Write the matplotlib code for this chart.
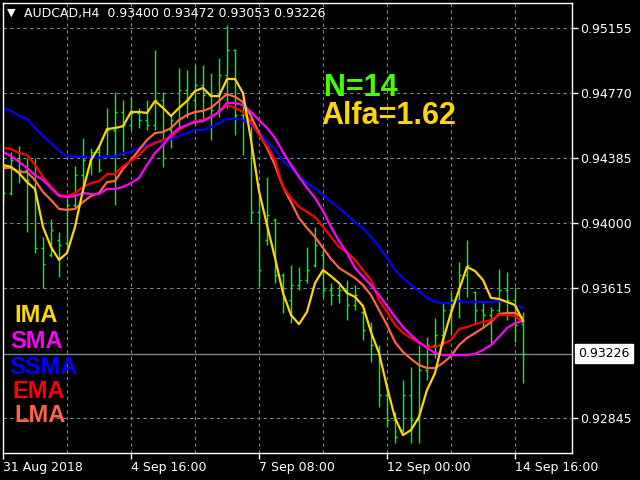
import numpy as np
import matplotlib.pyplot as plt
from matplotlib.transforms import blended_transform_factory

# H4 bars AUDCAD, 31 Aug 2018 .. 14 Sep 2018 20:00
opens = [0.94284, 0.94178, 0.94374, 0.94314, 0.94255, 0.93853, 0.93811, 0.93900, 0.93882, 0.94107,
         0.94284, 0.94374, 0.94421, 0.94403, 0.94551, 0.94658, 0.94580, 0.94652, 0.94610, 0.94580,
         0.94729, 0.94551, 0.94610, 0.94788, 0.94729, 0.94817, 0.94758, 0.94670, 0.94876, 0.95025,
         0.94640, 0.94610, 0.94066, 0.93900, 0.94018, 0.93692, 0.93545, 0.93633, 0.93663, 0.93752,
         0.93811, 0.93604, 0.93574, 0.93604, 0.93515, 0.93474, 0.93367, 0.93249, 0.92982, 0.92834,
         0.92775, 0.92982, 0.92834, 0.93130, 0.93278, 0.93337, 0.93486, 0.93545, 0.93692, 0.93592,
         0.93486, 0.93456, 0.93486, 0.93604, 0.93545, 0.93400]
highs = [0.94356, 0.94421, 0.94457, 0.94386, 0.94386, 0.93918, 0.94025, 0.93947, 0.94149, 0.94338,
         0.94504, 0.94445, 0.94462, 0.94682, 0.94776, 0.94729, 0.94747, 0.94682, 0.94729, 0.95025,
         0.94776, 0.94640, 0.94919, 0.94906, 0.94936, 0.94936, 0.94888, 0.94978, 0.95172, 0.95031,
         0.94729, 0.94640, 0.94166, 0.94273, 0.94030, 0.93704, 0.93752, 0.93740, 0.93859, 0.93977,
         0.93841, 0.93645, 0.93633, 0.93663, 0.93633, 0.93480, 0.93414, 0.93278, 0.93041, 0.92882,
         0.93071, 0.93148, 0.93278, 0.93326, 0.93438, 0.93533, 0.93592, 0.93770, 0.93900, 0.93598,
         0.93527, 0.93503, 0.93729, 0.93712, 0.93622, 0.93472]
lows = [0.94107, 0.94166, 0.94237, 0.93947, 0.93823, 0.93616, 0.93800, 0.93681, 0.93859, 0.94096,
        0.94225, 0.94284, 0.94302, 0.94392, 0.94107, 0.94403, 0.94551, 0.94563, 0.94551, 0.94551,
        0.94332, 0.94445, 0.94563, 0.94623, 0.94580, 0.94598, 0.94492, 0.94629, 0.94682, 0.94521,
        0.94403, 0.94000, 0.93622, 0.93870, 0.93645, 0.93468, 0.93408, 0.93604, 0.93645, 0.93740,
        0.93563, 0.93515, 0.93527, 0.93426, 0.93486, 0.93308, 0.93178, 0.92912, 0.92793, 0.92698,
        0.92765, 0.92698, 0.92698, 0.93071, 0.93201, 0.93278, 0.93337, 0.93438, 0.93563, 0.93408,
        0.93379, 0.93290, 0.93474, 0.93426, 0.93296, 0.93053]
closes = [0.94178, 0.94374, 0.94314, 0.94255, 0.93853, 0.93758, 0.93959, 0.93870, 0.94107, 0.94284,
          0.94374, 0.94421, 0.94314, 0.94551, 0.94658, 0.94580, 0.94652, 0.94610, 0.94580, 0.94729,
          0.94551, 0.94610, 0.94788, 0.94729, 0.94817, 0.94758, 0.94670, 0.94876, 0.95025, 0.94640,
          0.94610, 0.94066, 0.93722, 0.94048, 0.93692, 0.93545, 0.93633, 0.93663, 0.93722, 0.93870,
          0.93604, 0.93574, 0.93604, 0.93515, 0.93574, 0.93367, 0.93278, 0.92982, 0.92834, 0.92733,
          0.92982, 0.92834, 0.93130, 0.93278, 0.93337, 0.93486, 0.93545, 0.93692, 0.93752, 0.93486,
          0.93456, 0.93486, 0.93604, 0.93545, 0.93397, 0.93226]

# moving averages
ima = [0.94344, 0.94333, 0.94296, 0.94243, 0.94202, 0.93977, 0.93859, 0.93782, 0.93823, 0.93977,
       0.94196, 0.94374, 0.94451, 0.94557, 0.94563, 0.94574, 0.94658, 0.94658, 0.94652, 0.94723,
       0.94682, 0.94634, 0.94682, 0.94723, 0.94782, 0.94800, 0.94752, 0.94752, 0.94853, 0.94853,
       0.94770, 0.94492, 0.94190, 0.93988, 0.93794, 0.93586, 0.93456, 0.93402, 0.93474, 0.93645,
       0.93722, 0.93686, 0.93645, 0.93586, 0.93563, 0.93509, 0.93355, 0.93231, 0.93030, 0.92847,
       0.92745, 0.92775, 0.92853, 0.93012, 0.93112, 0.93308, 0.93468, 0.93604, 0.93741, 0.93716,
       0.93663, 0.93557, 0.93551, 0.93533, 0.93515, 0.93420]
sma = [0.94421, 0.94397, 0.94362, 0.94327, 0.94284, 0.94255, 0.94208, 0.94160, 0.94154, 0.94160,
       0.94178, 0.94172, 0.94172, 0.94202, 0.94202, 0.94214, 0.94237, 0.94267, 0.94344, 0.94415,
       0.94462, 0.94521, 0.94563, 0.94580, 0.94598, 0.94604, 0.94629, 0.94658, 0.94711, 0.94711,
       0.94699, 0.94658, 0.94610, 0.94563, 0.94504, 0.94421, 0.94344, 0.94273, 0.94208, 0.94149,
       0.94072, 0.93977, 0.93894, 0.93823, 0.93735, 0.93681, 0.93633, 0.93574, 0.93509, 0.93445,
       0.93385, 0.93337, 0.93296, 0.93261, 0.93231, 0.93219, 0.93219, 0.93219, 0.93219, 0.93225,
       0.93249, 0.93278, 0.93326, 0.93379, 0.93408, 0.93420]
ssma = [0.94682, 0.94664, 0.94634, 0.94617, 0.94563, 0.94515, 0.94474, 0.94427, 0.94397, 0.94392,
        0.94392, 0.94386, 0.94386, 0.94397, 0.94392, 0.94415, 0.94421, 0.94445, 0.94462, 0.94480,
        0.94480, 0.94498, 0.94515, 0.94533, 0.94551, 0.94551, 0.94569, 0.94592, 0.94617, 0.94617,
        0.94610, 0.94580, 0.94533, 0.94486, 0.94433, 0.94368, 0.94327, 0.94273, 0.94237, 0.94208,
        0.94166, 0.94125, 0.94090, 0.94048, 0.94006, 0.93971, 0.93918, 0.93859, 0.93794, 0.93722,
        0.93675, 0.93633, 0.93598, 0.93557, 0.93533, 0.93527, 0.93527, 0.93539, 0.93533, 0.93533,
        0.93533, 0.93533, 0.93539, 0.93533, 0.93515, 0.93498]
ema = [0.94445, 0.94439, 0.94415, 0.94403, 0.94344, 0.94273, 0.94214, 0.94166, 0.94160, 0.94178,
       0.94214, 0.94237, 0.94249, 0.94290, 0.94290, 0.94338, 0.94368, 0.94403, 0.94451, 0.94474,
       0.94492, 0.94510, 0.94551, 0.94580, 0.94604, 0.94610, 0.94629, 0.94658, 0.94699, 0.94682,
       0.94658, 0.94598, 0.94521, 0.94457, 0.94374, 0.94214, 0.94149, 0.94096, 0.94066, 0.94036,
       0.93977, 0.93918, 0.93859, 0.93829, 0.93782, 0.93722, 0.93663, 0.93545, 0.93474, 0.93397,
       0.93349, 0.93320, 0.93290, 0.93267, 0.93267, 0.93284, 0.93308, 0.93373, 0.93385, 0.93402,
       0.93414, 0.93426, 0.93456, 0.93456, 0.93450, 0.93414]
lma = [0.94327, 0.94327, 0.94302, 0.94302, 0.94255, 0.94184, 0.94137, 0.94084, 0.94078, 0.94084,
       0.94125, 0.94160, 0.94178, 0.94243, 0.94249, 0.94320, 0.94374, 0.94433, 0.94492, 0.94533,
       0.94539, 0.94563, 0.94610, 0.94640, 0.94658, 0.94664, 0.94682, 0.94723, 0.94764, 0.94747,
       0.94717, 0.94634, 0.94533, 0.94445, 0.94344, 0.94214, 0.94125, 0.94030, 0.93971, 0.93918,
       0.93853, 0.93788, 0.93735, 0.93705, 0.93675, 0.93633, 0.93574, 0.93486, 0.93397, 0.93296,
       0.93237, 0.93196, 0.93160, 0.93142, 0.93142, 0.93172, 0.93213, 0.93278, 0.93320, 0.93349,
       0.93379, 0.93414, 0.93462, 0.93468, 0.93468, 0.93438]

price_levels = [0.95155, 0.94770, 0.94385, 0.94000, 0.93615, 0.92845]
bid = 0.93226
date_ticks = [0, 16, 32, 48, 64]
date_labels = ['31 Aug 2018', '4 Sep 16:00', '7 Sep 08:00', '12 Sep 00:00', '14 Sep 16:00']

grid_col = '#778899'
bar_col = '#00FF00'

fig = plt.figure(figsize=(6.4, 4.8), dpi=100, facecolor='black')
ax = fig.add_axes([3/640, 27/480, 569/640, 450/480])
ax.set_facecolor('black')

x = np.arange(len(closes))

# grid
for k in range(8, 72, 8):
    ax.axvline(k, color=grid_col, lw=0.8, ls=(0, (3, 3)), zorder=0)
for lv in price_levels:
    ax.axhline(lv, color=grid_col, lw=0.8, ls=(0, (3, 3)), zorder=0)
ax.axhline(bid, color=grid_col, lw=1, zorder=0)

# OHLC bars
ax.vlines(x, lows, highs, color=bar_col, lw=1.0, zorder=1)
ax.hlines(opens, x - 0.3, x, color=bar_col, lw=1.0, zorder=1)
ax.hlines(closes, x, x + 0.3, color=bar_col, lw=1.0, zorder=1)

# MAs
ax.plot(x, ssma, color='#0000FF', lw=1.6, zorder=2)
ax.plot(x, lma, color='#FF6347', lw=1.6, zorder=2)
ax.plot(x, ema, color='#FF0000', lw=1.6, zorder=2)
ax.plot(x, sma, color='#FF00FF', lw=1.6, zorder=2)
ax.plot(x, ima, color='#FFD700', lw=1.6, zorder=3)

ax.set_xlim(0, 71.125)
ax.set_ylim(0.92639, 0.95303)

ax.yaxis.tick_right()
ax.set_yticks(price_levels)
ax.set_yticklabels(['%.5f' % v for v in price_levels])
ax.set_xticks(date_ticks)
ax.set_xticklabels(date_labels)
for t in ax.get_xticklabels():
    t.set_ha('left')
ax.tick_params(colors='white', labelsize=9, length=4, width=1, pad=2)
for s in ax.spines.values():
    s.set_color('white')
    s.set_linewidth(1)

trans = blended_transform_factory(ax.transAxes, ax.transData)
ax.annotate('%.5f' % bid, xy=(1.0, bid), xycoords=trans, xytext=(6, 0),
            textcoords='offset pixels', ha='left', va='center', fontsize=9, color='black',
            bbox=dict(boxstyle='square,pad=0.25', fc='white', ec='white'), annotation_clip=False)

# header
fig.text(7/640, 1 - 13/480, '\u25bc', color='white', fontsize=8, va='center')
fig.text(24/640, 1 - 13/480, 'AUDCAD,H4  0.93400 0.93472 0.93053 0.93226', color='white',
         fontsize=9, va='center')

# labels
lab_font = 'Liberation Sans'
names = ['IMA', 'SMA', 'SSMA', 'EMA', 'LMA']
name_cols = ['#FFD700', '#FF00FF', '#0000FF', '#FF0000', '#FF6347']
name_x = [14, 10, 9, 12, 14]
name_y = [316, 342, 367, 392, 416]
for nm, c, px, py in zip(names, name_cols, name_x, name_y):
    fig.text(px/640, 1 - py/480, nm, color=c, fontsize=17, fontweight='bold',
             family=lab_font, va='center')

fig.text(324/640, 1 - 88/480, 'N=14', color='#44FF00', fontsize=22, fontweight='bold',
         family=lab_font, va='center')
fig.text(321/640, 1 - 116/480, 'Alfa=1.62', color='#FFD700', fontsize=22, fontweight='bold',
         family=lab_font, va='center')

fig.savefig('out.png', dpi=100, facecolor='black')
